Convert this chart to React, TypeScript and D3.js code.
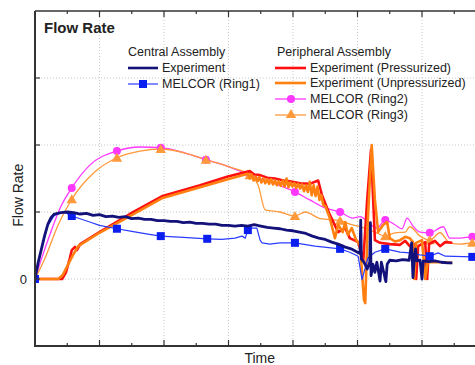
import React from 'react';
import * as d3 from 'd3';

// time in major grid units, flow in grid units (0 line = "0")
const navyT = [0, 0.05, 0.1, 0.15, 0.2, 0.25, 0.3, 0.4, 0.5, 0.6, 0.7, 0.8, 0.9, 1.0, 1.1, 1.2, 1.3, 1.4, 1.5, 1.6, 1.7, 1.8, 1.9, 2.0, 2.1, 2.2, 2.3, 2.4, 2.5, 2.6, 2.7, 2.8, 2.9, 3.0, 3.1, 3.2, 3.3, 3.4, 3.5, 3.6, 3.7, 3.8, 3.9, 4.0, 4.1, 4.2, 4.3, 4.4, 4.5, 4.6, 4.7, 4.8, 4.9, 5.0, 5.04, 5.05, 5.06, 5.1, 5.15, 5.19, 5.2, 5.21, 5.24, 5.27, 5.3, 5.35, 5.37, 5.44, 5.46, 5.5, 5.6, 5.7, 5.8, 5.84, 5.86, 5.88, 5.9, 5.92, 5.97, 6.0, 6.02, 6.1, 6.2, 6.3, 6.4, 6.47];
const navyY = [0, 0.25, 0.45, 0.65, 0.82, 0.92, 0.97, 0.99, 1.0, 0.99, 0.97, 0.98, 0.95, 0.96, 0.93, 0.94, 0.92, 0.93, 0.9, 0.91, 0.89, 0.89, 0.87, 0.87, 0.86, 0.86, 0.84, 0.85, 0.83, 0.83, 0.82, 0.82, 0.8, 0.8, 0.79, 0.8, 0.79, 0.81, 0.79, 0.77, 0.76, 0.75, 0.73, 0.72, 0.7, 0.68, 0.64, 0.61, 0.59, 0.55, 0.52, 0.48, 0.45, 0.4, 0.38, 0.88, 0.3, 0.25, 0.15, 0.25, 0.84, 0.05, 0.22, 0.1, 0.25, -0.03, 0.25, -0.04, 0.22, 0.28, 0.27, 0.29, 0.28, 0.54, 0.02, 0.28, 0.45, 0.27, 0.28, 0.0, 0.27, 0.26, 0.27, 0.25, 0.24, 0.24];

const ring1T = [0, 0.1, 0.2, 0.3, 0.45, 0.57, 0.85, 1.0, 1.27, 1.5, 1.75, 1.95, 2.3, 2.67, 2.9, 3.1, 3.21, 3.26, 3.3, 3.36, 3.44, 3.49, 3.52, 3.64, 3.8, 4.03, 4.34, 4.73, 4.88, 5.01, 5.07, 5.16, 5.27, 5.43, 5.66, 5.81, 5.97, 6.12, 6.25, 6.36, 6.78, 6.9];
const ring1Y = [0, 0.45, 0.8, 0.95, 1.0, 0.94, 0.85, 0.8, 0.75, 0.71, 0.67, 0.64, 0.62, 0.6, 0.59, 0.61, 0.64, 0.61, 0.73, 0.76, 0.76, 0.58, 0.54, 0.52, 0.54, 0.54, 0.49, 0.45, 0.4, 0.34, -0.01, 0.31, 0.4, 0.45, 0.4, 0.39, 0.36, 0.34, 0.39, 0.34, 0.33, 0.33];
const ring1MarkT = [0, 0.57, 1.27, 1.95, 2.67, 3.3, 4.03, 4.73, 5.43, 6.12, 6.78];
const ring1MarkY = [0, 0.94, 0.75, 0.64, 0.6, 0.73, 0.54, 0.45, 0.45, 0.34, 0.33];

const ring2T = [0, 0.08, 0.23, 0.39, 0.57, 0.85, 1.27, 1.63, 1.95, 2.33, 2.65, 3.02, 3.33, 3.64, 4.03, 4.26, 4.5, 4.73, 4.93, 5.04, 5.16, 5.3, 5.43, 5.58, 5.69, 5.77, 5.86, 5.97, 6.12, 6.33, 6.43, 6.59, 6.78, 6.9];
const ring2Y = [0, 0.24, 0.66, 1.06, 1.36, 1.7, 1.91, 1.97, 1.96, 1.88, 1.78, 1.67, 1.55, 1.45, 1.3, 1.18, 1.06, 1.0, 0.91, 0.93, 0.85, 0.76, 0.88, 0.81, 0.75, 0.91, 0.79, 0.7, 0.69, 0.78, 0.61, 0.61, 0.63, 0.63];
const ring2MarkT = [0.57, 1.27, 1.95, 2.65, 3.33, 4.03, 4.73, 5.43, 6.12, 6.78];
const ring2MarkY = [1.36, 1.91, 1.96, 1.78, 1.55, 1.3, 1.0, 0.88, 0.69, 0.63];

const ring3T = [0, 0.155, 0.36, 0.57, 0.93, 1.27, 1.63, 1.95, 2.33, 2.65, 3.02, 3.33, 3.46, 3.57, 3.8, 4.03, 4.19, 4.42, 4.73, 4.91, 5.04, 5.27, 5.43, 5.58, 5.74, 5.81, 5.97, 6.12, 6.28, 6.43, 6.59, 6.78, 6.9];
const ring3Y = [0, 0.31, 0.81, 1.19, 1.6, 1.81, 1.91, 1.94, 1.88, 1.78, 1.67, 1.55, 1.4, 1.03, 1.0, 0.94, 1.0, 0.9, 0.87, 0.81, 0.78, 0.7, 0.64, 0.69, 0.7, 0.78, 0.64, 0.58, 0.69, 0.54, 0.52, 0.54, 0.54];
const ring3MarkT = [0.57, 1.27, 1.95, 2.65, 3.33, 4.03, 4.73, 5.43, 6.12, 6.78];
const ring3MarkY = [1.19, 1.81, 1.94, 1.78, 1.55, 0.94, 0.87, 0.64, 0.58, 0.54];

const presT = [0, 0.42, 0.48, 0.54, 0.57, 0.62, 0.65, 0.7, 1.0, 1.47, 1.98, 2.56, 2.99, 3.33, 3.4, 3.49, 3.6, 3.72, 3.85, 3.95, 4.11, 4.26, 4.39, 4.45, 4.57, 4.7, 4.81, 4.88, 5.01, 5.09, 5.15, 5.21, 5.27, 5.35, 5.5, 5.66, 5.74, 5.81, 5.88, 5.91, 5.94, 6.05, 6.08, 6.11, 6.2, 6.28, 6.36, 6.47];
const presY = [0, 0, 0.1, 0.31, 0.43, 0.48, 0.43, 0.52, 0.7, 0.97, 1.24, 1.4, 1.53, 1.61, 1.56, 1.55, 1.51, 1.5, 1.47, 1.46, 1.43, 1.42, 1.47, 1.25, 0.96, 0.7, 0.76, 0.61, 0.55, 0.28, 1.18, 1.93, 0.58, 0.54, 0.52, 0.51, 0.57, 0.49, 0.52, 0, 0.49, 0.55, 0, 0.52, 0.57, 0.49, 0.55, 0.54];

const unpresT = [0, 0.36, 0.43, 0.51, 0.59, 0.67, 1.0, 1.47, 1.98, 2.56, 2.99, 3.3, 3.33, 3.36, 3.39, 3.42, 3.45, 3.48, 3.51, 3.54, 3.57, 3.6, 3.63, 3.66, 3.69, 3.72, 3.75, 3.78, 3.81, 3.84, 3.87, 3.9, 3.93, 3.96, 3.99, 4.02, 4.05, 4.08, 4.11, 4.14, 4.17, 4.2, 4.23, 4.26, 4.29, 4.32, 4.35, 4.38, 4.41, 4.44, 4.47, 4.5, 4.57, 4.65, 4.7, 4.77, 4.81, 4.85, 4.91, 4.98, 5.04, 5.1, 5.12, 5.16, 5.22, 5.27, 5.32, 5.4, 5.46, 5.5, 5.58, 5.66, 5.74, 5.81, 5.86, 5.88, 5.91, 6.0, 6.05, 6.09, 6.28, 6.47];
const unpresY = [0, 0, 0.06, 0.21, 0.36, 0.49, 0.69, 0.94, 1.21, 1.37, 1.49, 1.57, 1.5, 1.56, 1.47, 1.53, 1.46, 1.52, 1.44, 1.5, 1.43, 1.49, 1.42, 1.49, 1.41, 1.47, 1.4, 1.46, 1.39, 1.47, 1.38, 1.5, 1.37, 1.44, 1.38, 1.43, 1.36, 1.42, 1.35, 1.41, 1.31, 1.4, 1.3, 1.45, 1.25, 1.4, 1.24, 1.38, 1.18, 1.25, 1.1, 1.09, 0.91, 0.61, 0.81, 0.7, 0.85, 0.66, 0.76, 0.58, 0.51, -0.31, -0.36, 0.88, 2.0, 1.18, 0.7, 0.81, 0.85, 0.61, 0.56, 0.58, 0.63, 0.61, 0.55, 0, 0.54, 0.58, 0, 0.25, 0.25, 0.24];

const xTicks = [1, 2, 3, 4, 5, 6];
const xMinor = [0.5, 1.5, 2.5, 3.5, 4.5, 5.5, 6.5];
const yTicks = [0, 1, 2, 3];
const yTickLabels = ['0', '', '', ''];

const font = '"Liberation Sans", Arial, sans-serif';

const W = 475, H = 365;
const left = 35, top = 11, bottom = 346;

const x = d3.scaleLinear().domain([0, 7]).range([left, left + 7 * 64.5]);
const y = d3.scaleLinear().domain([-1, 4]).range([bottom, top]);

const zip = (t: number[], v: number[]) => t.map((d, i) => [d, v[i]] as [number, number]);
const line = d3.line<[number, number]>().x(d => x(d[0])).y(d => y(d[1]));
const smooth = d3.line<[number, number]>().x(d => x(d[0])).y(d => y(d[1])).curve(d3.curveMonotoneX);

const C = {
  navy: '#12127a',
  ring1: '#2a3cff',
  ring1m: '#0a1ef0',
  ring2: '#ff38ff',
  ring3: '#ff9a3c',
  pres: '#ff1010',
  unpres: '#ff8010',
};

const tri = d3.symbol(d3.symbolTriangle, 48)();

export default function App() {
  const xr = x.range()[1];
  return (
    <svg width={W} height={H} style={{ position: 'absolute', left: 0, top: 0, background: '#fff' }} fontFamily={font}>
      <defs>
        <clipPath id="plot">
          <rect x={left} y={top} width={xr - left} height={bottom - top} />
        </clipPath>
      </defs>
      {/* grid */}
      <g stroke="#c8c8c8" strokeWidth={1} strokeDasharray="1,2">
        {xTicks.map(t => <line key={'gx' + t} x1={x(t)} x2={x(t)} y1={top} y2={bottom} />)}
        {yTicks.map(t => <line key={'gy' + t} x1={left} x2={xr} y1={y(t)} y2={y(t)} />)}
      </g>

      <g clipPath="url(#plot)" fill="none" strokeLinejoin="round">
        <path d={smooth(zip(ring2T, ring2Y)) || ''} stroke={C.ring2} strokeWidth={1.3} />
        <path d={smooth(zip(ring3T, ring3Y)) || ''} stroke={C.ring3} strokeWidth={1.3} />
        {ring2MarkT.map((t, i) => (
          <circle key={'m2' + i} cx={x(t)} cy={y(ring2MarkY[i])} r={4} fill={C.ring2} stroke="none" />
        ))}
        {ring3MarkT.map((t, i) => (
          <path key={'m3' + i} d={tri || ''} transform={`translate(${x(t)},${y(ring3MarkY[i]) + 1})`} fill={C.ring3} stroke="none" />
        ))}
        <path d={line(zip(presT, presY)) || ''} stroke={C.pres} strokeWidth={2.6} />
        <path d={line(zip(unpresT, unpresY)) || ''} stroke={C.unpres} strokeWidth={2.6} />
        <path d={line(zip(ring1T, ring1Y)) || ''} stroke={C.ring1} strokeWidth={1.2} />
        {ring1MarkT.map((t, i) => (
          <rect key={'m1' + i} x={x(t) - 4} y={y(ring1MarkY[i]) - 4} width={8} height={8} fill={C.ring1m} />
        ))}
        <path d={line(zip(navyT, navyY)) || ''} stroke={C.navy} strokeWidth={2.8} />
      </g>

      {/* ticks */}
      <g stroke="#333" strokeWidth={1.2}>
        {xTicks.map(t => <line key={'tb' + t} x1={x(t)} x2={x(t)} y1={bottom} y2={bottom - 6} />)}
        {xMinor.map(t => <line key={'tbm' + t} x1={x(t)} x2={x(t)} y1={bottom} y2={bottom - 3} />)}
        {xTicks.map(t => <line key={'tt' + t} x1={x(t)} x2={x(t)} y1={top} y2={top + 6} />)}
        {xMinor.map(t => <line key={'ttm' + t} x1={x(t)} x2={x(t)} y1={top} y2={top + 3} />)}
        {yTicks.map(t => <line key={'tl' + t} x1={left} x2={left + 5} y1={y(t)} y2={y(t)} />)}
      </g>
      {/* frame */}
      <line x1={left} x2={W} y1={top} y2={top} stroke="#333" strokeWidth={1.5} />
      <line x1={left} x2={W} y1={bottom} y2={bottom} stroke="#333" strokeWidth={2} />
      <line x1={left} x2={left} y1={top} y2={bottom + 1} stroke="#333" strokeWidth={2} />

      {yTicks.map((t, i) => (
        <text key={'yl' + t} x={left - 8} y={y(t)} dy="0.35em" textAnchor="end" fontSize={13} fill="#222">{yTickLabels[i]}</text>
      ))}

      <text x={x(3.5) - 1} y={363} textAnchor="middle" fontSize={14} fill="#222">Time</text>
      <text transform={`translate(23,${y(1.25)}) rotate(-90)`} textAnchor="middle" fontSize={14} fill="#222">Flow Rate</text>
      <text x={44} y={33} fontSize={15} fontWeight="bold" fill="#222">Flow Rate</text>

      {/* legend: central */}
      <g fontSize={12.5} fill="#222">
        <text x={128} y={56}>Central Assembly</text>
        <line x1={128} x2={158} y1={68} y2={68} stroke={C.navy} strokeWidth={2.6} />
        <text x={162} y={72}>Experiment</text>
        <line x1={128} x2={158} y1={84} y2={84} stroke={C.ring1} strokeWidth={1.2} />
        <rect x={139} y={80} width={8} height={8} fill={C.ring1m} />
        <text x={162} y={88}>MELCOR (Ring1)</text>

        <text x={277} y={56}>Peripheral Assembly</text>
        <line x1={275} x2={306} y1={68} y2={68} stroke={C.pres} strokeWidth={2.6} />
        <text x={310} y={72}>Experiment (Pressurized)</text>
        <line x1={275} x2={306} y1={83} y2={83} stroke={C.unpres} strokeWidth={2.6} />
        <text x={310} y={87}>Experiment (Unpressurized)</text>
        <line x1={275} x2={306} y1={99} y2={99} stroke={C.ring2} strokeWidth={1.3} />
        <circle cx={291} cy={99} r={4} fill={C.ring2} />
        <text x={310} y={103}>MELCOR (Ring2)</text>
        <line x1={275} x2={306} y1={115} y2={115} stroke={C.ring3} strokeWidth={1.3} />
        <path d={tri || ''} transform="translate(291,115)" fill={C.ring3} />
        <text x={310} y={119}>MELCOR (Ring3)</text>
      </g>
    </svg>
  );
}
